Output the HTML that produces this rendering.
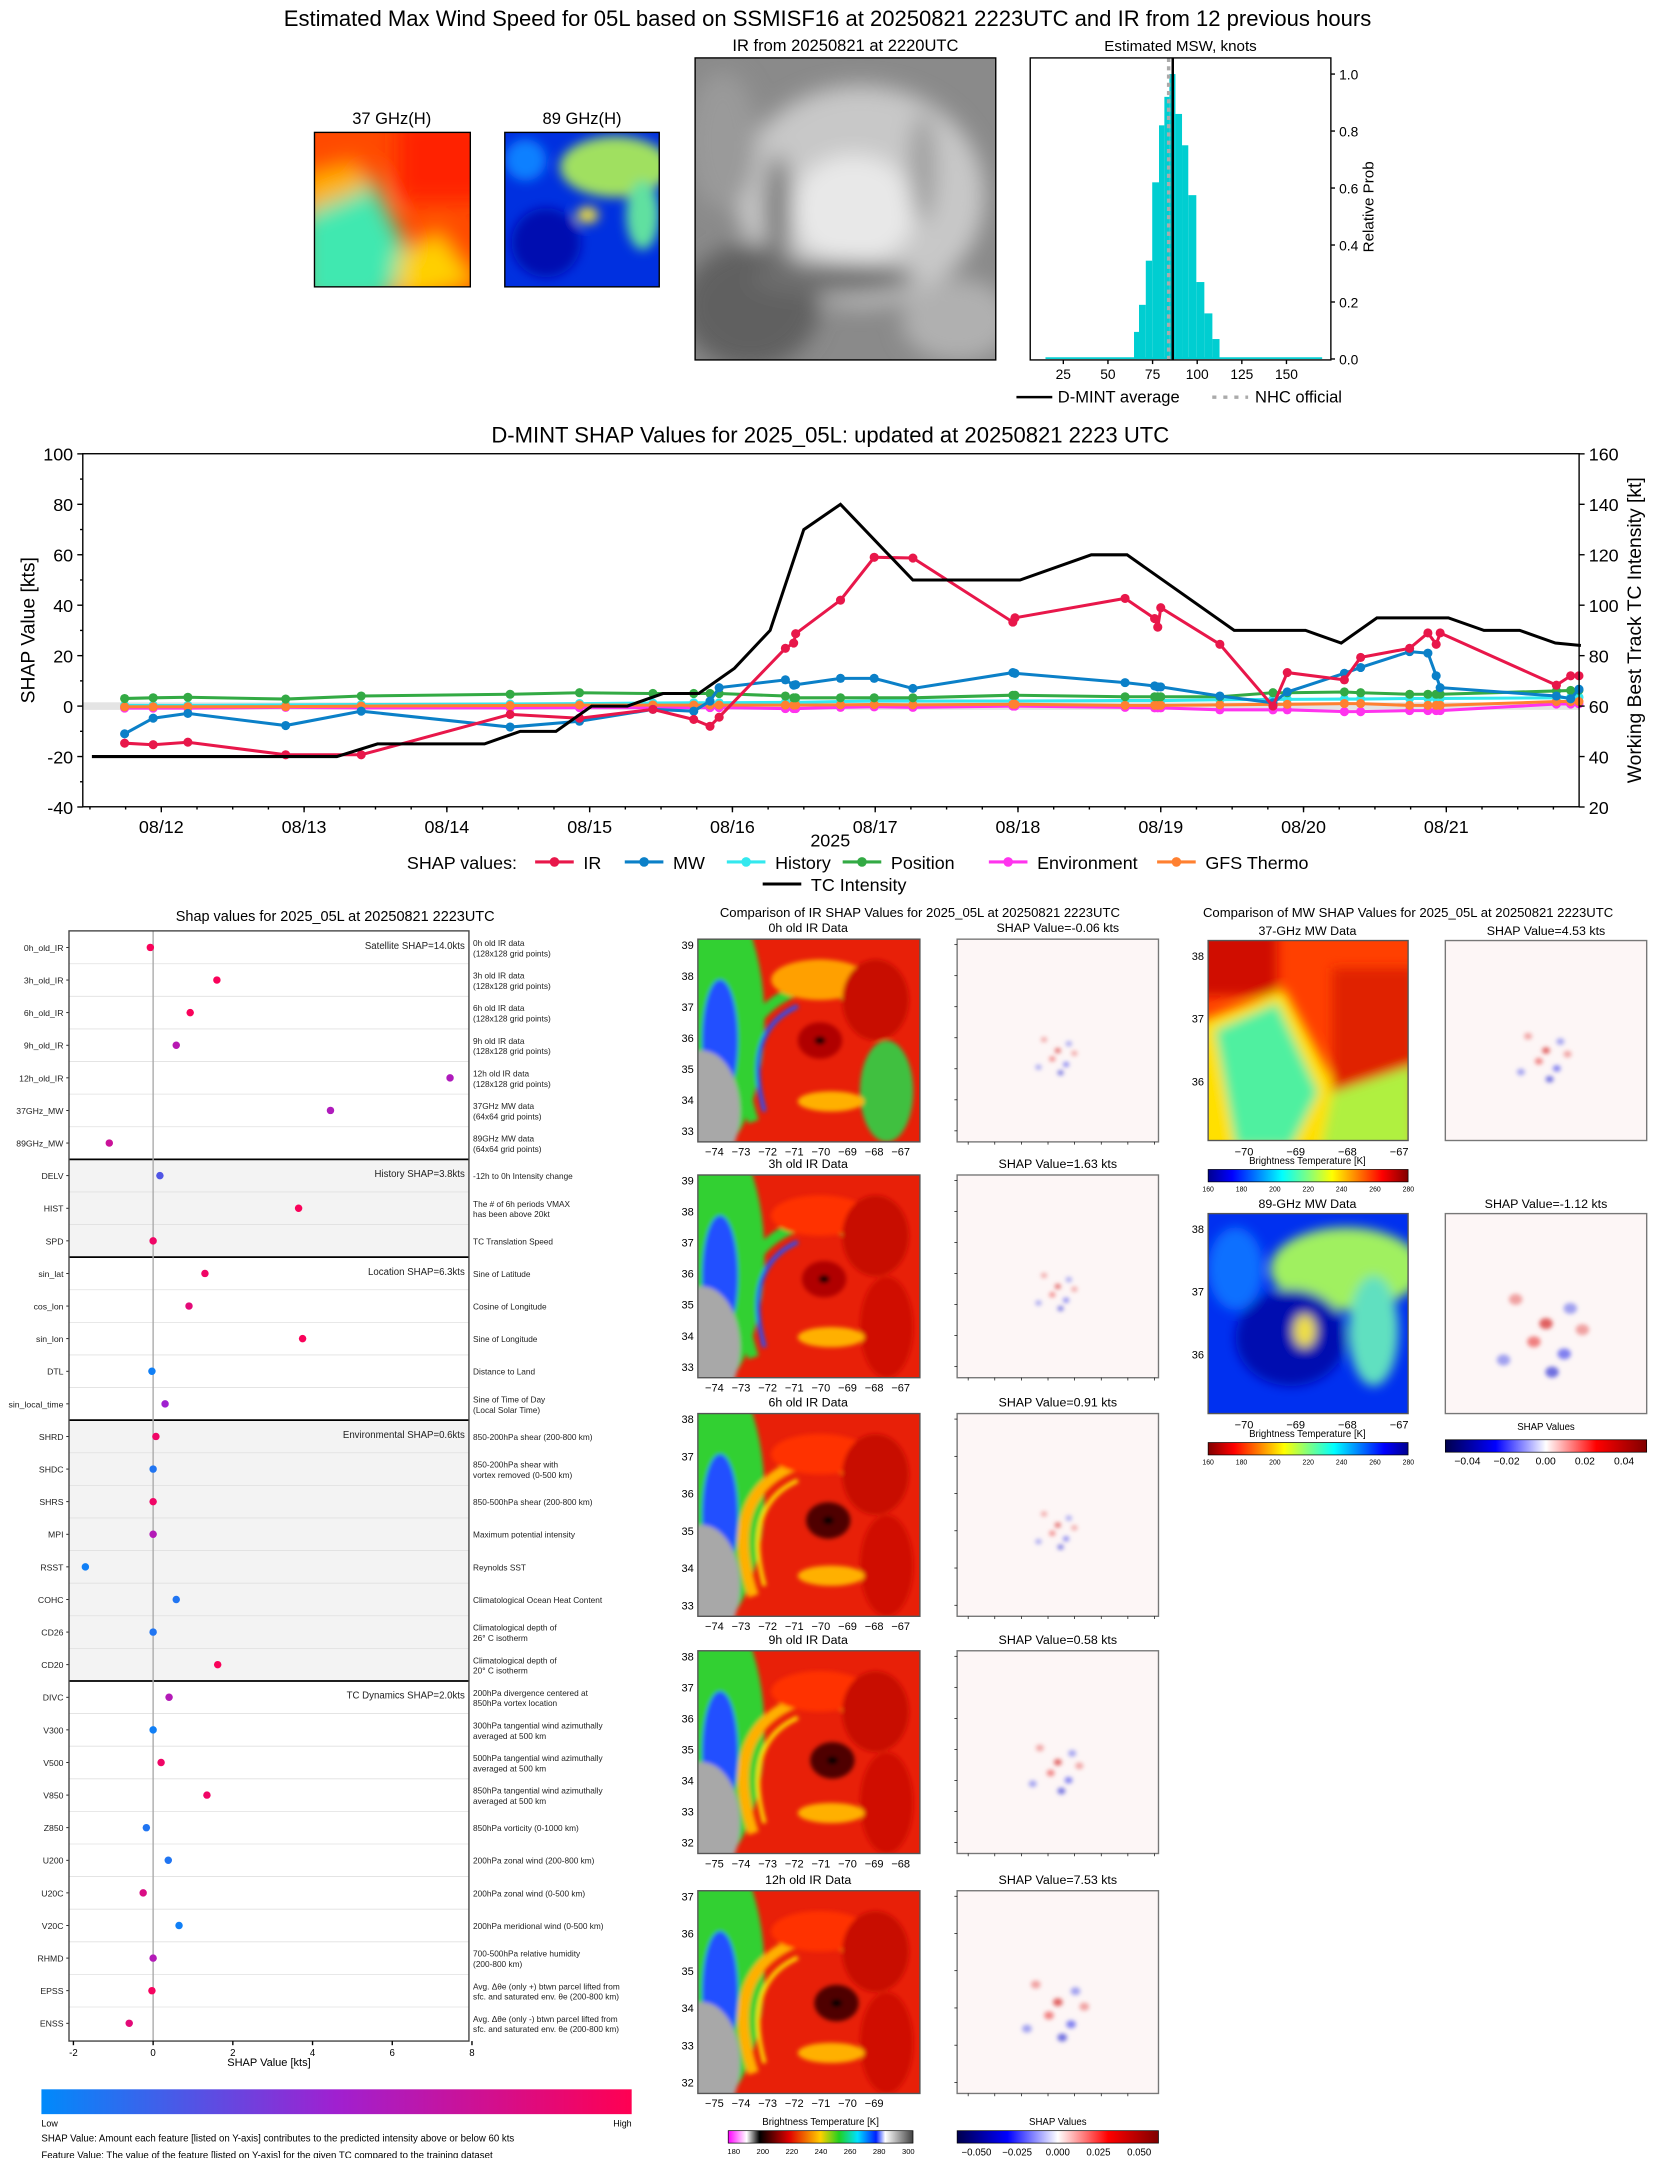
<!DOCTYPE html>
<html><head><meta charset="utf-8">
<style>
html,body{margin:0;padding:0;background:#fff;}
svg{display:block;font-family:"Liberation Sans","DejaVu Sans",sans-serif;}
</style></head>
<body>
<svg id="root" width="1655" height="2158" viewBox="0 0 1200 1564.8" xmlns="http://www.w3.org/2000/svg">
<defs>
<filter id="blur4"><feGaussianBlur stdDeviation="4"/></filter>
<filter id="blur8"><feGaussianBlur stdDeviation="8"/></filter>
<filter id="blur2"><feGaussianBlur stdDeviation="1.5"/></filter>
<linearGradient id="cbShap" x1="0" x2="1"><stop offset="0" stop-color="#008afb"/><stop offset="0.5" stop-color="#a020d0"/><stop offset="1" stop-color="#ff0052"/></linearGradient>
<linearGradient id="cbIR" x1="0" x2="1"><stop offset="0" stop-color="#ff00ff"/><stop offset="0.1" stop-color="#ffffff"/><stop offset="0.17" stop-color="#000"/><stop offset="0.33" stop-color="#e00000"/><stop offset="0.5" stop-color="#ffd000"/><stop offset="0.6" stop-color="#20d020"/><stop offset="0.7" stop-color="#00e0ff"/><stop offset="0.8" stop-color="#0020ff"/><stop offset="0.85" stop-color="#ffffff"/><stop offset="1" stop-color="#404040"/></linearGradient>
<linearGradient id="cbSeis" x1="0" x2="1"><stop offset="0" stop-color="#00004c"/><stop offset="0.25" stop-color="#0000ff"/><stop offset="0.5" stop-color="#ffffff"/><stop offset="0.75" stop-color="#ff0000"/><stop offset="1" stop-color="#800000"/></linearGradient>
<linearGradient id="cbJet" x1="0" x2="1"><stop offset="0" stop-color="#00008f"/><stop offset="0.12" stop-color="#0000ff"/><stop offset="0.37" stop-color="#00ffff"/><stop offset="0.5" stop-color="#80ff80"/><stop offset="0.62" stop-color="#ffff00"/><stop offset="0.87" stop-color="#ff0000"/><stop offset="1" stop-color="#800000"/></linearGradient>
<linearGradient id="cbJetR" x1="1" x2="0"><stop offset="0" stop-color="#00008f"/><stop offset="0.12" stop-color="#0000ff"/><stop offset="0.37" stop-color="#00ffff"/><stop offset="0.5" stop-color="#80ff80"/><stop offset="0.62" stop-color="#ffff00"/><stop offset="0.87" stop-color="#ff0000"/><stop offset="1" stop-color="#800000"/></linearGradient>
</defs>

<text x="600" y="19" font-size="16" text-anchor="middle">Estimated Max Wind Speed for 05L based on SSMISF16 at 20250821 2223UTC and IR from 12 previous hours</text>

<text x="284" y="90" font-size="12" text-anchor="middle">37 GHz(H)</text>
<g>
<svg x="228" y="96" width="113" height="112" overflow="hidden"><rect width="113" height="112" fill="#ff4a00"/>
<g filter="url(#blur8)"><rect x="60" y="-10" width="70" height="60" fill="#ff2000"/><polygon points="-10,60 40,30 70,90 50,125 -10,125" fill="#40e8b0"/><polygon points="-10,30 30,20 40,40 -10,60" fill="#ffb000"/><polygon points="60,90 90,70 120,110 60,125" fill="#ffd000"/></g></svg>
<rect x="228" y="96" width="113" height="112" fill="none" stroke="#000"/></g>

<text x="422" y="90" font-size="12" text-anchor="middle">89 GHz(H)</text>
<g>
<svg x="366" y="96" width="112" height="112" overflow="hidden"><rect width="112" height="112" fill="#0030e0"/>
<g filter="url(#blur4)"><ellipse cx="80" cy="25" rx="40" ry="22" fill="#a0e060"/><ellipse cx="100" cy="60" rx="12" ry="25" fill="#60e0a0"/><ellipse cx="60" cy="60" rx="8" ry="6" fill="#f0e040"/><ellipse cx="30" cy="80" rx="25" ry="25" fill="#0010b0"/><ellipse cx="15" cy="20" rx="15" ry="15" fill="#1080ff"/></g></svg>
<rect x="366" y="96" width="112" height="112" fill="none" stroke="#000"/></g>

<text x="613" y="37" font-size="12" text-anchor="middle">IR from 20250821 at 2220UTC</text>
<g>
<svg x="504" y="42" width="218" height="219" overflow="hidden"><rect width="218" height="219" fill="#8a8a8a"/>
<g filter="url(#blur8)"><ellipse cx="120" cy="100" rx="90" ry="80" fill="#c8c8c8"/><ellipse cx="115" cy="110" rx="45" ry="40" fill="#e8e8e8"/><ellipse cx="40" cy="180" rx="50" ry="45" fill="#606060"/><ellipse cx="20" cy="60" rx="25" ry="50" fill="#9a9a9a"/><ellipse cx="190" cy="190" rx="40" ry="30" fill="#b0b0b0"/><ellipse cx="100" cy="160" rx="60" ry="12" fill="#6e6e6e"/><ellipse cx="60" cy="110" rx="10" ry="40" fill="#7a7a7a"/><ellipse cx="165" cy="80" rx="10" ry="40" fill="#a0a0a0"/></g></svg>
<rect x="504" y="42" width="218" height="219" fill="none" stroke="#000"/></g>

<g id="hist"></g>
<g id="timeline"></g>
<g id="dots"></g>
<g id="ircomp"></g>
<g id="mwcomp"></g>
</svg>

<script>
const NS='http://www.w3.org/2000/svg';
function mk(parent,tag,attrs,text){const e=document.createElementNS(NS,tag);for(const k in attrs)e.setAttribute(k,attrs[k]);if(text!==undefined)e.textContent=text;parent.appendChild(e);return e;}

/* ---------- Histogram data ---------- */
const histBinLeft=[64.6,67.4,71.2,74.8,78.6,81.6,84.4,87.8,91.5,95,99.5,104,108.5];
const histBinRight=[67.4,71.2,74.8,78.6,81.6,84.4,87.8,91.5,95,99.5,104,108.5,112.5];
const histProb=[0.095,0.19,0.345,0.62,0.82,0.92,1.0,0.86,0.75,0.575,0.27,0.16,0.07];
const histXTicks=[25,50,75,100,125,150];
const histYTicks=[0.0,0.2,0.4,0.6,0.8,1.0];
const dmintAvg=86.3, nhcOfficial=84;

(function(){
const g=document.getElementById('hist');
const L=747,R=965,T=42,B=261;
const hx=v=>771+(v-25)*1.2944, hy=p=>260.3-p*206.6;
mk(g,'text',{x:856,y:37,'font-size':11,'text-anchor':'middle'},'Estimated MSW, knots');
const base=mk(g,'rect',{x:hx(15),y:hy(0.006),width:hx(170)-hx(15),height:hy(0)-hy(0.006),fill:'#00ced1'});


histProb.forEach((p,i)=>{const r=mk(g,'rect',{x:hx(histBinLeft[i]),y:hy(p),width:hx(histBinRight[i])-hx(histBinLeft[i]),height:hy(0)-hy(p),fill:'#00ced1'});

});
const n=mk(g,'line',{x1:hx(nhcOfficial),x2:hx(nhcOfficial),y1:T,y2:B,stroke:'#aaa','stroke-width':2.5,'stroke-dasharray':'3,3'});


const a=mk(g,'line',{x1:hx(dmintAvg),x2:hx(dmintAvg),y1:T,y2:B,stroke:'#000','stroke-width':1.8});


mk(g,'rect',{x:L,y:T,width:R-L,height:B-T,fill:'none',stroke:'#000'});
histXTicks.forEach(t=>{mk(g,'line',{x1:hx(t),x2:hx(t),y1:B,y2:B+3,stroke:'#000'});mk(g,'text',{x:hx(t),y:B+14,'font-size':10,'text-anchor':'middle'},t);});
histYTicks.forEach(t=>{mk(g,'line',{x1:R,x2:R+3,y1:hy(t),y2:hy(t),stroke:'#000'});mk(g,'text',{x:R+6,y:hy(t)+4,'font-size':10},t.toFixed(1));});
mk(g,'text',{transform:'translate(996,150) rotate(-90)','font-size':11,'text-anchor':'middle'},'Relative Prob');
mk(g,'line',{x1:737,x2:763,y1:288,y2:288,stroke:'#000','stroke-width':1.8});
mk(g,'text',{x:767,y:292,'font-size':12},'D-MINT average');
mk(g,'line',{x1:879,x2:905,y1:288,y2:288,stroke:'#aaa','stroke-width':2.5,'stroke-dasharray':'3,5'});
mk(g,'text',{x:910,y:292,'font-size':12},'NHC official');
})();

/* ---------- Timeline data ---------- */
const tlTimes=[11.743,11.943,12.186,12.871,13.4,14.443,14.929,15.443,15.729,15.843,15.907,16.371,16.429,16.443,16.757,16.993,17.264,17.964,17.979,18.75,18.957,18.979,19.0,19.414,19.786,19.886,20.286,20.4,20.743,20.871,20.929,20.957,21.771,21.871,21.929];
const shapIR=[-14.7,-15.3,-14.3,-19.3,-19.3,-3.3,-4.8,-1.3,-5.3,-8,-4.4,22.9,25,28.7,42,59,58.7,33.3,35,42.7,34.7,31.3,39,24.5,0,13.3,10.4,19.3,22.9,29,24.5,29,8.3,12,12];
const shapMW=[-11,-4.8,-2.9,-7.7,-2,-8.3,-6,-1.3,-2,2,7.3,10.4,8.3,8.5,11,11,7,13.3,13,9.3,8,7.6,7.6,4,1.3,5.6,13,15.3,21.6,21,12,7.3,4,2.9,6.7];
const shapHistory=[0.3,0.3,0.3,0.5,0.6,0.8,1,1.2,1.3,1.3,1.3,1.5,1.5,1.5,1.8,2,2,2,2,2.2,2.2,2.2,2.2,2.5,2.7,2.7,2.8,2.8,3,3,3,3,3.3,3.4,3.5];
const shapPosition=[3,3.3,3.5,2.8,4,4.7,5.3,5,5,5,5,4,3.3,3.3,3.3,3.3,3.3,4.3,4.3,3.7,3.7,3.7,3.7,3.7,5.3,5.3,5.6,5.3,4.7,4.7,4.7,4.7,6,6.2,6.3];
const shapEnv=[-0.8,-0.8,-0.8,-0.5,-0.7,-0.7,-0.6,-0.6,-0.6,-0.6,-0.6,-1,-1,-1,-0.5,-0.3,-0.5,0,0,-0.5,-0.7,-0.7,-0.7,-1.5,-1.5,-1.5,-2.2,-2.2,-1.8,-1.8,-1.8,-1.8,0.8,0.8,0.9];
const shapGFS=[-0.3,-0.3,-0.3,-0.2,0,0.2,0.4,0.4,0.4,0.4,0.4,0.4,0.4,0.4,0.5,0.6,0.5,0.7,0.7,0.3,0.3,0.3,0.3,0.5,0.7,0.7,1,1,0.3,0.3,0.3,0.3,1.8,1.8,1.8];
const tcTimes=[11.514,13.229,13.514,14.264,14.514,14.764,15.014,15.264,15.514,15.764,16.014,16.264,16.5,16.757,17.264,18.014,18.514,18.764,19.514,20.014,20.264,20.514,21.014,21.264,21.514,21.764,21.943];
const tcIntensity=[40,40,45,45,50,50,60,60,65,65,75,90,130,140,110,110,120,120,90,90,85,95,95,90,90,85,84];
const tlDateLabels=['08/12','08/13','08/14','08/15','08/16','08/17','08/18','08/19','08/20','08/21'];
const tlDateDays=[12,13,14,15,16,17,18,19,20,21];
const tlLeftTicks=[-40,-20,0,20,40,60,80,100];
const tlRightTicks=[20,40,60,80,100,120,140,160];

(function(){
const g=document.getElementById('timeline');
const L=60,R=1145,T=329,B=585;
const tx=d=>60+(d-11.45)*103.53, ty=v=>512-v*1.829, tyR=k=>ty(k-60);
mk(g,'text',{x:602,y:321,'font-size':16,'text-anchor':'middle'},'D-MINT SHAP Values for 2025_05L: updated at 20250821 2223 UTC');
mk(g,'rect',{x:L,y:ty(1.5),width:R-L,height:ty(-1.5)-ty(1.5),fill:'#e4e4e4'});
const series=[[shapEnv,'#ff33ee','environment'],[shapHistory,'#33e8ee','history'],[shapGFS,'#ff8030','gfs-thermo'],[shapPosition,'#33aa44','position'],[shapMW,'#0b80c8','mw'],[shapIR,'#e8174a','ir']];
series.forEach(([vals,col,nm])=>{
 const pts=vals.map((v,i)=>tx(tlTimes[i]).toFixed(1)+','+ty(v).toFixed(1)).join(' ');
 const pl=mk(g,'polyline',{points:pts,fill:'none',stroke:col,'stroke-width':2.2});
 
 
 vals.forEach((v,i)=>{const c=mk(g,'circle',{cx:tx(tlTimes[i]),cy:ty(v),r:3.3,fill:col});
 
 });
});
const tc=mk(g,'polyline',{points:tcIntensity.map((k,i)=>tx(tcTimes[i]).toFixed(1)+','+tyR(k).toFixed(1)).join(' '),fill:'none',stroke:'#000','stroke-width':2.2});


mk(g,'rect',{x:L,y:T,width:R-L,height:B-T,fill:'none',stroke:'#000'});
tlLeftTicks.forEach(t=>{mk(g,'line',{x1:L-4,x2:L,y1:ty(t),y2:ty(t),stroke:'#000'});mk(g,'text',{x:L-7,y:ty(t)+5,'font-size':13,'text-anchor':'end'},t);});
for(let t=-30;t<100;t+=20)mk(g,'line',{x1:L-2,x2:L,y1:ty(t),y2:ty(t),stroke:'#000'});
tlRightTicks.forEach(t=>{mk(g,'line',{x1:R,x2:R+4,y1:tyR(t),y2:tyR(t),stroke:'#000'});mk(g,'text',{x:R+7,y:tyR(t)+5,'font-size':13},t);});
tlDateDays.forEach((d,i)=>{mk(g,'line',{x1:tx(d),x2:tx(d),y1:B,y2:B+4,stroke:'#000'});mk(g,'text',{x:tx(d),y:B+19,'font-size':13,'text-anchor':'middle'},tlDateLabels[i]);});
for(let d=11.5;d<21.95;d+=0.25)mk(g,'line',{x1:tx(d),x2:tx(d),y1:B,y2:B+2,stroke:'#000'});
mk(g,'text',{x:602,y:614,'font-size':13,'text-anchor':'middle'},'2025');
mk(g,'text',{transform:'translate(25,457) rotate(-90)','font-size':14,'text-anchor':'middle'},'SHAP Value [kts]');
mk(g,'text',{transform:'translate(1190,457) rotate(-90)','font-size':14,'text-anchor':'middle'},'Working Best Track TC Intensity [kt]');
mk(g,'text',{x:295,y:630,'font-size':13},'SHAP values:');
const leg=[[388,'IR','#e8174a'],[453,'MW','#0b80c8'],[527,'History','#33e8ee'],[611,'Position','#33aa44'],[717,'Environment','#ff33ee'],[839,'GFS Thermo','#ff8030']];
leg.forEach(([x,lab,col])=>{mk(g,'line',{x1:x,x2:x+28,y1:625,y2:625,stroke:col,'stroke-width':2.2});mk(g,'circle',{cx:x+14,cy:625,r:3.5,fill:col});const t=mk(g,'text',{x:x+35,y:630,'font-size':13},lab);

});
mk(g,'line',{x1:553,x2:581,y1:641,y2:641,stroke:'#000','stroke-width':2.2});
mk(g,'text',{x:588,y:646,'font-size':13},'TC Intensity');
})();

/* ---------- Dot plot data ---------- */
const featNames=['0h_old_IR','3h_old_IR','6h_old_IR','9h_old_IR','12h_old_IR','37GHz_MW','89GHz_MW','DELV','HIST','SPD','sin_lat','cos_lon','sin_lon','DTL','sin_local_time','SHRD','SHDC','SHRS','MPI','RSST','COHC','CD26','CD20','DIVC','V300','V500','V850','Z850','U200','U20C','V20C','RHMD','EPSS','ENSS'];
const featShap=[-0.07,1.6,0.93,0.58,7.45,4.45,-1.1,0.17,3.65,0.0,1.3,0.9,3.75,-0.03,0.3,0.07,0,0,0,-1.7,0.58,0,1.62,0.4,0,0.2,1.35,-0.17,0.38,-0.25,0.65,0,-0.03,-0.6];
const featValue=[0.97,0.97,0.97,0.62,0.58,0.58,0.72,0.25,0.97,0.92,0.92,0.85,0.97,0.05,0.5,0.92,0.1,0.92,0.6,0.05,0.1,0.1,0.97,0.6,0.05,0.92,0.92,0.1,0.1,0.8,0.05,0.6,0.95,0.85];
const featDesc=['0h old IR data|(128x128 grid points)','3h old IR data|(128x128 grid points)','6h old IR data|(128x128 grid points)','9h old IR data|(128x128 grid points)','12h old IR data|(128x128 grid points)','37GHz MW data|(64x64 grid points)','89GHz MW data|(64x64 grid points)','-12h to 0h Intensity change','The # of 6h periods VMAX|has been above 20kt','TC Translation Speed','Sine of Latitude','Cosine of Longitude','Sine of Longitude','Distance to Land','Sine of Time of Day|(Local Solar Time)','850-200hPa shear (200-800 km)','850-200hPa shear with|vortex removed (0-500 km)','850-500hPa shear (200-800 km)','Maximum potential intensity','Reynolds SST','Climatological Ocean Heat Content','Climatological depth of|26° C isotherm','Climatological depth of|20° C isotherm','200hPa divergence centered at|850hPa vortex location','300hPa tangential wind azimuthally|averaged at 500 km','500hPa tangential wind azimuthally|averaged at 500 km','850hPa tangential wind azimuthally|averaged at 500 km','850hPa vorticity (0-1000 km)','200hPa zonal wind (200-800 km)','200hPa zonal wind (0-500 km)','200hPa meridional wind (0-500 km)','700-500hPa relative humidity|(200-800 km)','Avg. Δθe (only +) btwn parcel lifted from|sfc. and saturated env. θe (200-800 km)','Avg. Δθe (only -) btwn parcel lifted from|sfc. and saturated env. θe (200-800 km)'];
const groupLabels=['Satellite SHAP=14.0kts','History SHAP=3.8kts','Location SHAP=6.3kts','Environmental SHAP=0.6kts','TC Dynamics SHAP=2.0kts'];
const groupStart=[0,7,10,15,23];
const dotXTicks=[-2,0,2,4,6,8];

(function(){
const g=document.getElementById('dots');
const L=50,R=340,T=675,B=1480;
const dx=v=>111+v*28.9, dy=i=>687+i*23.64;
function cmap(t){const a=[0,138,250],m=[160,32,208],b=[255,0,82];let c;if(t<0.5){const u=t/0.5;c=a.map((v,k)=>v+(m[k]-v)*u);}else{const u=(t-0.5)/0.5;c=m.map((v,k)=>v+(b[k]-v)*u);}return 'rgb('+c.map(Math.round).join(',')+')';}
mk(g,'text',{x:243,y:668,'font-size':10.5,'text-anchor':'middle'},'Shap values for 2025_05L at 20250821 2223UTC');
mk(g,'rect',{x:L,y:dy(6.5),width:R-L,height:dy(9.5)-dy(6.5),fill:'#f3f3f3'});
mk(g,'rect',{x:L,y:dy(14.5),width:R-L,height:dy(22.5)-dy(14.5),fill:'#f3f3f3'});
for(let i=0;i<featNames.length-1;i++)mk(g,'line',{x1:L,x2:R,y1:dy(i+0.5),y2:dy(i+0.5),stroke:'#e0e0e0','stroke-width':0.6});
[6.5,9.5,14.5,22.5].forEach(s=>mk(g,'line',{x1:L,x2:R,y1:dy(s),y2:dy(s),stroke:'#000','stroke-width':1.3}));
mk(g,'line',{x1:dx(0),x2:dx(0),y1:T,y2:B,stroke:'#aaa','stroke-width':1});
groupLabels.forEach((lab,i)=>mk(g,'text',{x:R-3,y:dy(groupStart[i])+1,'font-size':7,'text-anchor':'end',fill:'#222'},lab));
featNames.forEach((nm,i)=>{
 mk(g,'text',{x:L-4,y:dy(i)+2.5,'font-size':6.3,'text-anchor':'end',fill:'#222'},nm);
 mk(g,'line',{x1:L-2,x2:L,y1:dy(i),y2:dy(i),stroke:'#000','stroke-width':0.6});
 const c=mk(g,'circle',{cx:dx(featShap[i]),cy:dy(i),r:2.7,fill:cmap(featValue[i])});
 
 
 const lines=featDesc[i].split('|');
 lines.forEach((ln,k)=>mk(g,'text',{x:R+3,y:dy(i)+(lines.length===1?2.5:-1+k*7.5),'font-size':6,fill:'#222'},ln));
});
mk(g,'rect',{x:L,y:T,width:R-L,height:B-T,fill:'none',stroke:'#444'});
dotXTicks.forEach(t=>{mk(g,'line',{x1:dx(t),x2:dx(t),y1:B,y2:B+3,stroke:'#000'});mk(g,'text',{x:dx(t),y:B+11,'font-size':7,'text-anchor':'middle'},t);});
mk(g,'text',{x:195,y:1498,'font-size':8,'text-anchor':'middle'},'SHAP Value [kts]');
const cb=mk(g,'rect',{x:30,y:1515,width:428,height:18,fill:'url(#cbShap)'});


mk(g,'text',{x:30,y:1542,'font-size':6.5},'Low');
mk(g,'text',{x:458,y:1542,'font-size':6.5,'text-anchor':'end'},'High');
mk(g,'text',{x:30,y:1553,'font-size':7},'SHAP Value: Amount each feature [listed on Y-axis] contributes to the predicted intensity above or below 60 kts');
mk(g,'text',{x:30,y:1565,'font-size':7},'Feature Value: The value of the feature [listed on Y-axis] for the given TC compared to the training dataset');
})();

/* ---------- IR comparison panels ---------- */
const irTitles=['0h old IR Data','3h old IR Data','6h old IR Data','9h old IR Data','12h old IR Data'];
const irShapVals=['-0.06','1.63','0.91','0.58','7.53'];
const irLatTicks=[[39,38,37,36,35,34,33],[39,38,37,36,35,34,33],[38,37,36,35,34,33],[38,37,36,35,34,33,32],[37,36,35,34,33,32]];
const irLonTicks=[[-74,-73,-72,-71,-70,-69,-68,-67],[-74,-73,-72,-71,-70,-69,-68,-67],[-74,-73,-72,-71,-70,-69,-68,-67],[-75,-74,-73,-72,-71,-70,-69,-68],[-75,-74,-73,-72,-71,-70,-69]];
const irTops=[681,852,1025,1197,1371];

function irImage(g,x,y,w,h,k){
 const s=mk(g,'svg',{x:x,y:y,width:w,height:h,overflow:'hidden'});
 mk(s,'rect',{width:w,height:h,fill:'#e82008'});
 const b=mk(s,'g',{filter:'url(#blur2)'});
 const cx=0.55*w+k*3, cy=0.5*h+k*2;
 mk(b,'ellipse',{cx:0,cy:h*0.4,rx:w*0.3,ry:h*0.7,fill:'#30d030'});
 mk(b,'ellipse',{cx:w*0.1,cy:h*0.5,rx:w*0.08,ry:h*0.3,fill:'#2050ff'});
 mk(b,'path',{d:`M ${w*0.25} ${h*0.9} Q ${w*0.1} ${h*0.4} ${w*0.45} ${h*0.25} Q ${w*0.7} ${h*0.2} ${w*0.8} ${h*0.45}`,fill:'none',stroke:k<2?'#30d030':'#ffb000','stroke-width':8});
 mk(b,'path',{d:`M ${w*0.3} ${h*0.85} Q ${w*0.2} ${h*0.45} ${w*0.45} ${h*0.33}`,fill:'none',stroke:k<2?'#2050ff':'#ffe000','stroke-width':3});
 mk(b,'ellipse',{cx:w*0.55,cy:h*0.2,rx:w*0.22,ry:h*0.1,fill:k===0?'#ffa000':'#ff3000'});
 mk(b,'ellipse',{cx:w*0.85,cy:h*0.75,rx:w*0.12,ry:h*0.25,fill:k===0?'#40c040':'#d01000'});
 mk(b,'ellipse',{cx:w*0.8,cy:h*0.3,rx:w*0.15,ry:h*0.2,fill:'#c81000'});
 mk(b,'ellipse',{cx:w*0.6,cy:h*0.8,rx:w*0.15,ry:h*0.05,fill:'#ffb000'});
 mk(b,'ellipse',{cx:w*0.02,cy:h*0.85,rx:w*0.17,ry:h*0.3,fill:'#a8a8a8'});
 mk(b,'ellipse',{cx:cx,cy:cy,rx:w*0.1,ry:h*0.09,fill:k>=2?'#500000':'#b00000'});
 mk(b,'ellipse',{cx:cx,cy:cy,rx:w*0.025,ry:h*0.02,fill:'#000'});
}
function shapImage(g,x,y,w,h,strength){
 const s=mk(g,'svg',{x:x,y:y,width:w,height:h,overflow:'hidden'});
 mk(s,'rect',{width:w,height:h,fill:'#fdf6f6'});
 const b=mk(s,'g',{filter:'url(#blur2)'});
 const cx=w*0.5,cy=h*0.55;
 const offs=[[-10,-8,'#f0a0a0'],[8,-5,'#a0a0f0'],[-4,6,'#f08080'],[6,10,'#8080f0'],[0,0,'#e06060'],[-14,12,'#a0a0f0'],[12,2,'#f0a0a0'],[2,16,'#7070e0']];
 offs.forEach(([ox,oy,c])=>mk(b,'ellipse',{cx:cx+ox*strength,cy:cy+oy*strength,rx:2.2*strength,ry:1.8*strength,fill:c}));
}
(function(){
const g=document.getElementById('ircomp');
mk(g,'text',{x:667,y:665,'font-size':9.5,'text-anchor':'middle'},'Comparison of IR SHAP Values for 2025_05L at 20250821 2223UTC');
irTops.forEach((t,k)=>{
 const x=506,w=161,h=147,sx=694,sw=146;
 mk(g,'text',{x:586,y:t-5,'font-size':9,'text-anchor':'middle'},irTitles[k]);
 mk(g,'text',{x:767,y:t-5,'font-size':9,'text-anchor':'middle'},'SHAP Value='+irShapVals[k]+' kts');
 const pg=mk(g,'g',{});
 
 
 irImage(pg,x,t,w,h,k);
 mk(g,'rect',{x:x,y:t,width:w,height:h,fill:'none',stroke:'#555'});
 const sg=mk(g,'g',{});
 
 
 shapImage(sg,sx,t,sw,h,k===4?1.6:(k===3?1.3:1));
 mk(g,'rect',{x:sx,y:t,width:sw,height:h,fill:'none',stroke:'#777'});
 const lat=irLatTicks[k];lat.forEach((v,i)=>{const yy=t+4+i*(h-12)/(lat.length-1);mk(g,'text',{x:x-3,y:yy+3,'font-size':8,'text-anchor':'end'},v);mk(g,'line',{x1:sx-2,x2:sx,y1:yy,y2:yy,stroke:'#000','stroke-width':0.5});});
 const lon=irLonTicks[k];lon.forEach((v,i)=>{const xx=x+12+i*19.3;mk(g,'text',{x:xx,y:t+h+10,'font-size':8,'text-anchor':'middle'},'\u2212'+Math.abs(v));mk(g,'line',{x1:sx+8+i*19.3,x2:sx+8+i*19.3,y1:t+h,y2:t+h+2,stroke:'#000','stroke-width':0.5});});
});
mk(g,'text',{x:595,y:1541,'font-size':7,'text-anchor':'middle'},'Brightness Temperature [K]');
const c1=mk(g,'rect',{x:528,y:1545,width:134,height:9,fill:'url(#cbIR)',stroke:'#000','stroke-width':0.5});


[180,200,220,240,260,280,300].forEach((v,i)=>mk(g,'text',{x:528+4+i*21.1,y:1562,'font-size':5.5,'text-anchor':'middle'},v));
mk(g,'text',{x:767,y:1541,'font-size':7,'text-anchor':'middle'},'SHAP Values');
const c2=mk(g,'rect',{x:694,y:1545,width:146,height:9,fill:'url(#cbSeis)',stroke:'#000','stroke-width':0.5});


['\u22120.050','\u22120.025','0.000','0.025','0.050'].forEach((v,i)=>mk(g,'text',{x:708+i*29.5,y:1563,'font-size':7,'text-anchor':'middle'},v));
})();

/* ---------- MW comparison ---------- */
const mwTitles=['37-GHz MW Data','89-GHz MW Data'];
const mwShapVals=['4.53','-1.12'];
const mwLatTicks=[38,37,36];
const mwLonTicks=[-70,-69,-68,-67];
(function(){
const g=document.getElementById('mwcomp');
mk(g,'text',{x:1021,y:665,'font-size':9.5,'text-anchor':'middle'},'Comparison of MW SHAP Values for 2025_05L at 20250821 2223UTC');
const tops=[682,880];
tops.forEach((t,k)=>{
 const x=876,w=145,h=145,sx=1048,sw=146;
 mk(g,'text',{x:948,y:t-4,'font-size':9,'text-anchor':'middle'},mwTitles[k]);
 mk(g,'text',{x:1121,y:t-4,'font-size':9,'text-anchor':'middle'},'SHAP Value='+mwShapVals[k]+' kts');
 const s=mk(g,'svg',{x:x,y:t,width:w,height:h,overflow:'hidden'});
 
 
 mk(s,'rect',{width:w,height:h,fill:k===0?'#ff4000':'#0030f0'});
 const b=mk(s,'g',{filter:'url(#blur4)'});
 if(k===0){
  mk(b,'rect',{x:-10,y:-10,width:60,height:50,fill:'#d01000'});
  mk(b,'polygon',{points:'-10,60 55,35 95,110 80,160 -10,160',fill:'#ffe000'});
  mk(b,'polygon',{points:'5,65 50,45 80,110 60,150 20,150',fill:'#50f0a0'});
  mk(b,'rect',{x:90,y:20,width:60,height:90,fill:'#e02000'});
  mk(b,'polygon',{points:'90,110 150,90 150,160 80,160',fill:'#b0f040'});}
 else{
  mk(b,'ellipse',{cx:100,cy:40,rx:55,ry:30,fill:'#a0f060'});
  mk(b,'ellipse',{cx:120,cy:85,rx:18,ry:40,fill:'#60e0c0'});
  mk(b,'ellipse',{cx:60,cy:90,rx:40,ry:35,fill:'#0010b0'});
  mk(b,'ellipse',{cx:70,cy:85,rx:8,ry:12,fill:'#f0e040'});
  mk(b,'ellipse',{cx:20,cy:40,rx:20,ry:30,fill:'#1070ff'});}
 mk(g,'rect',{x:x,y:t,width:w,height:h,fill:'none',stroke:'#555'});
 const sg=mk(g,'g',{});
 
 
 shapImage(sg,sx,t,sw,h,k?2.2:1.3);
 mk(g,'rect',{x:sx,y:t,width:sw,height:h,fill:'none',stroke:'#777'});
 mwLatTicks.forEach((v,i)=>mk(g,'text',{x:x-3,y:t+14+i*45.5,'font-size':8,'text-anchor':'end'},v));
 mwLonTicks.forEach((v,i)=>mk(g,'text',{x:902+i*37.5,y:t+h+11,'font-size':8,'text-anchor':'middle'},'\u2212'+Math.abs(v)));
 const cy=t+h+20;
 mk(g,'text',{x:948,y:cy-3,'font-size':7,'text-anchor':'middle'},'Brightness Temperature [K]');
 const cb=mk(g,'rect',{x:876,y:cy+1,width:145,height:9,fill:k?'url(#cbJetR)':'url(#cbJet)',stroke:'#000','stroke-width':0.5});
 
 
 [160,180,200,220,240,260,280].forEach((v,i)=>mk(g,'text',{x:876+i*24.2,y:cy+17,'font-size':5,'text-anchor':'middle'},v));
});
mk(g,'text',{x:1121,y:1037,'font-size':7,'text-anchor':'middle'},'SHAP Values');
const c2=mk(g,'rect',{x:1048,y:1044,width:146,height:9,fill:'url(#cbSeis)',stroke:'#000','stroke-width':0.5});


['\u22120.04','\u22120.02','0.00','0.02','0.04'].forEach((v,i)=>mk(g,'text',{x:1064+i*28.4,y:1062,'font-size':7.5,'text-anchor':'middle'},v));
})();
</script>
</body></html>
